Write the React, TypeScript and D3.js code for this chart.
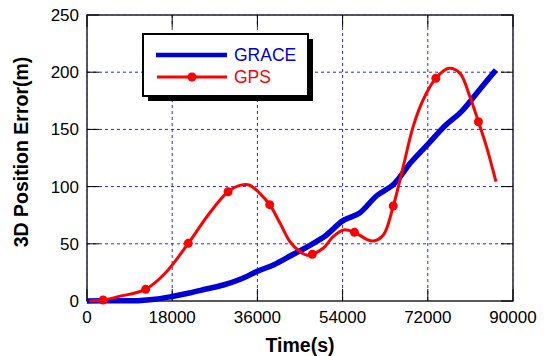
import React from "react";
import * as d3 from "d3";

const xTicks = [0, 18000, 36000, 54000, 72000, 90000];
const yTicks = [0, 50, 100, 150, 200, 250];

const graceTime = [0, 5400, 10800, 14400, 18000, 21600, 25200, 28800, 32400, 36000, 39600, 43200, 46800, 50400, 54000, 57600, 61200, 64800, 68400, 72000, 75600, 79200, 82800, 86400];
const graceError = [0, 0.3, 0.3, 1.5, 4, 7, 10.5, 14, 19, 26, 32, 40, 48, 57, 70, 77, 92, 102, 121, 137, 153, 166, 184, 202];

const gpsTime = [500, 3400, 6600, 12400, 16500, 21400, 25600, 29800, 32700, 34400, 36500, 38600, 40800, 42900, 45000, 46500, 47600, 49900, 52000, 54200, 56500, 59100, 60500, 62600, 64700, 66800, 68900, 71000, 73700, 76500, 78800, 80900, 82700, 84400, 86400];
const gpsError = [0, 0.9, 3.8, 10.2, 24.2, 50.4, 75.2, 95.5, 101.5, 101.2, 94.1, 84.2, 67.9, 51.8, 43.1, 40, 40.8, 46.1, 56.2, 62.1, 60, 53.9, 52.4, 57.7, 83, 117.4, 152.4, 175.7, 194.7, 203.4, 199, 178.6, 156.7, 134.9, 104.3];

const markerTime = [3400, 12400, 21400, 29800, 38600, 47600, 56500, 64700, 73700, 82700];
const markerError = [0.9, 10.2, 50.4, 95.5, 84.2, 40.8, 60, 83, 194.7, 156.7];

const legendLabels = ["GRACE", "GPS"];

const FONT = "'Liberation Sans', Arial, sans-serif";

export default function App() {
  const W = 548, H = 356;
  const left = 87, right = 513, top = 15, bottom = 301;
  const x = d3.scaleLinear().domain([0, 90000]).range([left, right]);
  const y = d3.scaleLinear().domain([0, 250]).range([bottom, top]);

  const grace = d3.range(graceTime.length).map(i => [graceTime[i], graceError[i]] as [number, number]);
  const gps = d3.range(gpsTime.length).map(i => [gpsTime[i], gpsError[i]] as [number, number]);

  const graceLine = d3.line<[number, number]>().x(d => x(d[0])).y(d => y(d[1])).curve(d3.curveCatmullRom.alpha(0.5));
  const gpsLine = d3.line<[number, number]>().x(d => x(d[0])).y(d => y(d[1])).curve(d3.curveCatmullRom.alpha(0.5));

  const gridColor = "#2a2ae0";
  const tickLen = 12;
  const blue = "#0000d8";
  const red = "#ff0000";

  const lx = 143, ly = 34, lw = 165, lh = 62;

  return (
    <svg width={W} height={H} style={{ position: "absolute", left: 0, top: 0, background: "#fff" }}>
      <rect x={0} y={0} width={W} height={H} fill="#fff" />
      {/* grid */}
      {xTicks.filter(t => t > 0 && t < 90000).map(t => (
        <line key={"gx" + t} x1={x(t)} x2={x(t)} y1={top} y2={bottom} stroke={gridColor} strokeWidth={1} strokeDasharray="3,3" />
      ))}
      {yTicks.filter(t => t > 0 && t < 250).map(t => (
        <line key={"gy" + t} x1={left} x2={right} y1={y(t)} y2={y(t)} stroke={gridColor} strokeWidth={1} strokeDasharray="3,3" />
      ))}
      {/* box */}
      <rect x={left} y={top} width={right - left} height={bottom - top} fill="none" stroke="#000" strokeWidth={1.3} />
      <line x1={left} x2={right} y1={top} y2={top} stroke={gridColor} strokeWidth={1} strokeDasharray="3,3" opacity={0.6} />
      <line x1={left} x2={left} y1={top} y2={bottom} stroke={gridColor} strokeWidth={1} strokeDasharray="3,3" opacity={0.6} />
      <line x1={right} x2={right} y1={top} y2={bottom} stroke={gridColor} strokeWidth={1} strokeDasharray="3,3" opacity={0.6} />
      {/* ticks */}
      {xTicks.map(t => (
        <g key={"tx" + t}>
          <line x1={x(t)} x2={x(t)} y1={bottom} y2={bottom - tickLen} stroke="#000" strokeWidth={1} />
          <line x1={x(t)} x2={x(t)} y1={top} y2={top + tickLen} stroke="#000" strokeWidth={1} />
          <text x={x(t)} y={323} textAnchor="middle" fontFamily={FONT} fontSize={17} fill="#000">{t}</text>
        </g>
      ))}
      {yTicks.map(t => (
        <g key={"ty" + t}>
          <line x1={left} x2={left + tickLen} y1={y(t)} y2={y(t)} stroke="#000" strokeWidth={1} />
          <line x1={right} x2={right - tickLen} y1={y(t)} y2={y(t)} stroke="#000" strokeWidth={1} />
          <text x={79} y={y(t) + 6} textAnchor="end" fontFamily={FONT} fontSize={17} fill="#000">{t}</text>
        </g>
      ))}
      {/* data */}
      <path d={graceLine(grace) || ""} fill="none" stroke={blue} strokeWidth={5.5} strokeLinejoin="round" />
      <path d={gpsLine(gps) || ""} fill="none" stroke={red} strokeWidth={3} strokeLinejoin="round" />
      {markerTime.map((t, i) => (
        <circle key={"m" + i} cx={x(t)} cy={y(markerError[i])} r={4.5} fill={red} />
      ))}
      {/* legend */}
      <rect x={lx + 5} y={ly + 5} width={lw} height={lh} fill="#000" />
      <rect x={lx} y={ly} width={lw} height={lh} fill="#fff" stroke="#000" strokeWidth={2} />
      <line x1={156} x2={227} y1={55} y2={55} stroke={blue} strokeWidth={4.5} />
      <text x={234} y={61} fontFamily={FONT} fontSize={17.5} fill={blue}>{legendLabels[0]}</text>
      <line x1={157} x2={227} y1={77} y2={77} stroke={red} strokeWidth={3} />
      <circle cx={192} cy={77} r={4.5} fill={red} />
      <text x={234} y={83} fontFamily={FONT} fontSize={17.5} fill={red}>{legendLabels[1]}</text>
      {/* axis titles */}
      <text x={(left + right) / 2} y={352} textAnchor="middle" fontFamily={FONT} fontSize={19.5} fontWeight="bold" fill="#000">Time(s)</text>
      <text transform={`translate(28, 152) rotate(-90)`} textAnchor="middle" fontFamily={FONT} fontSize={19.5} fontWeight="bold" fill="#000">3D Position Error(m)</text>
    </svg>
  );
}
